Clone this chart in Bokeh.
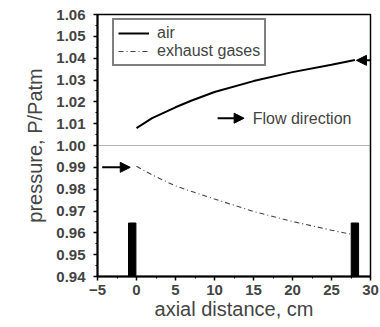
from bokeh.plotting import figure
from bokeh.models import (Range1d, FixedTicker, PrintfTickFormatter, Legend, LegendItem,
                          Arrow, NormalHead, Label, Span)
from bokeh.embed import file_html
from bokeh.resources import INLINE

# data
air_x = [0, 2, 5, 7, 10, 15, 20, 25, 28]
air_p = [1.008, 1.0125, 1.0175, 1.0205, 1.0245, 1.0295, 1.0336, 1.0370, 1.0392]
exh_x = [0, 2, 5, 7, 10, 15, 20, 25, 28]
exh_p = [0.9905, 0.9865, 0.9815, 0.9790, 0.9755, 0.9698, 0.9652, 0.9612, 0.9590]
bar_x = [-0.55, 28.0]
bar_top = [0.9645, 0.9645]
x_ticks = [-5, 0, 5, 10, 15, 20, 25, 30]
y_ticks = [0.94, 0.95, 0.96, 0.97, 0.98, 0.99, 1.00, 1.01, 1.02, 1.03, 1.04, 1.05, 1.06]
ref_p = 1.00
# annotation arrows: (x_start, y_start, x_end, y_end)
arrows = [(-4.4, 0.990, -0.8, 0.990), (30.0, 1.039, 28.2, 1.039), (10.4, 1.0125, 13.8, 1.0125)]
flow_label = (14.9, 1.0125, "Flow direction")

FONT = "Liberation Sans"

p = figure(width=380, height=322, output_backend="svg", toolbar_location=None,
           x_range=Range1d(-5, 30), y_range=Range1d(0.94, 1.06),
           min_border_left=97, min_border_right=10, min_border_top=14, min_border_bottom=44)
p.grid.visible = False
p.outline_line_color = "black"
p.outline_line_width = 1.5

for ax in (p.xaxis[0], p.yaxis[0]):
    ax.axis_line_width = 2
    ax.major_tick_line_width = 1.5
    ax.major_tick_in = 0
    ax.major_tick_out = 4
    ax.minor_tick_in = 0
    ax.minor_tick_out = 2
    ax.major_label_text_font = FONT
    ax.major_label_text_font_size = "15px"
    ax.major_label_text_font_style = "bold"
    ax.axis_label_text_font = FONT
    ax.axis_label_text_font_size = "20px"
    ax.axis_label_text_font_style = "normal"

p.xaxis.major_label_standoff = 4
p.yaxis.major_label_standoff = 8
p.xaxis.ticker = FixedTicker(ticks=x_ticks, minor_ticks=[v + 2.5 for v in x_ticks[:-1]])
p.yaxis.ticker = FixedTicker(ticks=y_ticks, minor_ticks=[round(v + 0.005, 3) for v in y_ticks[:-1]])
p.yaxis.formatter = PrintfTickFormatter(format="%.2f")
p.xaxis.axis_label = "axial distance, cm"
p.yaxis.axis_label = "pressure, P/Patm"
p.xaxis.axis_label_standoff = 0
p.yaxis.axis_label_standoff = 7

p.add_layout(Span(location=ref_p, dimension="width", line_color="#666666",
                  line_width=1.2, line_dash="1 1"))

r_air = p.line(air_x, air_p, line_color="black", line_width=2)
r_exh = p.line(exh_x, exh_p, line_color="#444444", line_width=1.1, line_dash="5 3 1 3")

p.vbar(x=bar_x, width=0.95, bottom=0.94, top=bar_top, fill_color="black", line_color="black")

for (x0, y0, x1, y1) in arrows:
    p.add_layout(Arrow(x_start=x0, y_start=y0, x_end=x1, y_end=y1, line_width=2,
                       end=NormalHead(size=10, fill_color="black", line_color="black")))

p.add_layout(Label(x=flow_label[0], y=flow_label[1], text=flow_label[2],
                   text_font=FONT, text_font_size="16px", text_baseline="middle"))

legend = Legend(items=[LegendItem(label="air", renderers=[r_air]),
                       LegendItem(label="exhaust gases", renderers=[r_exh])],
                location=(15, 210), margin=0, padding=4, spacing=0,
                glyph_width=31, glyph_height=16, label_standoff=8,
                label_text_font=FONT, label_text_font_size="16px",
                border_line_color="black", border_line_width=2,
                background_fill_alpha=1)
p.add_layout(legend)

open("out.html", "w").write(file_html(p, INLINE))
